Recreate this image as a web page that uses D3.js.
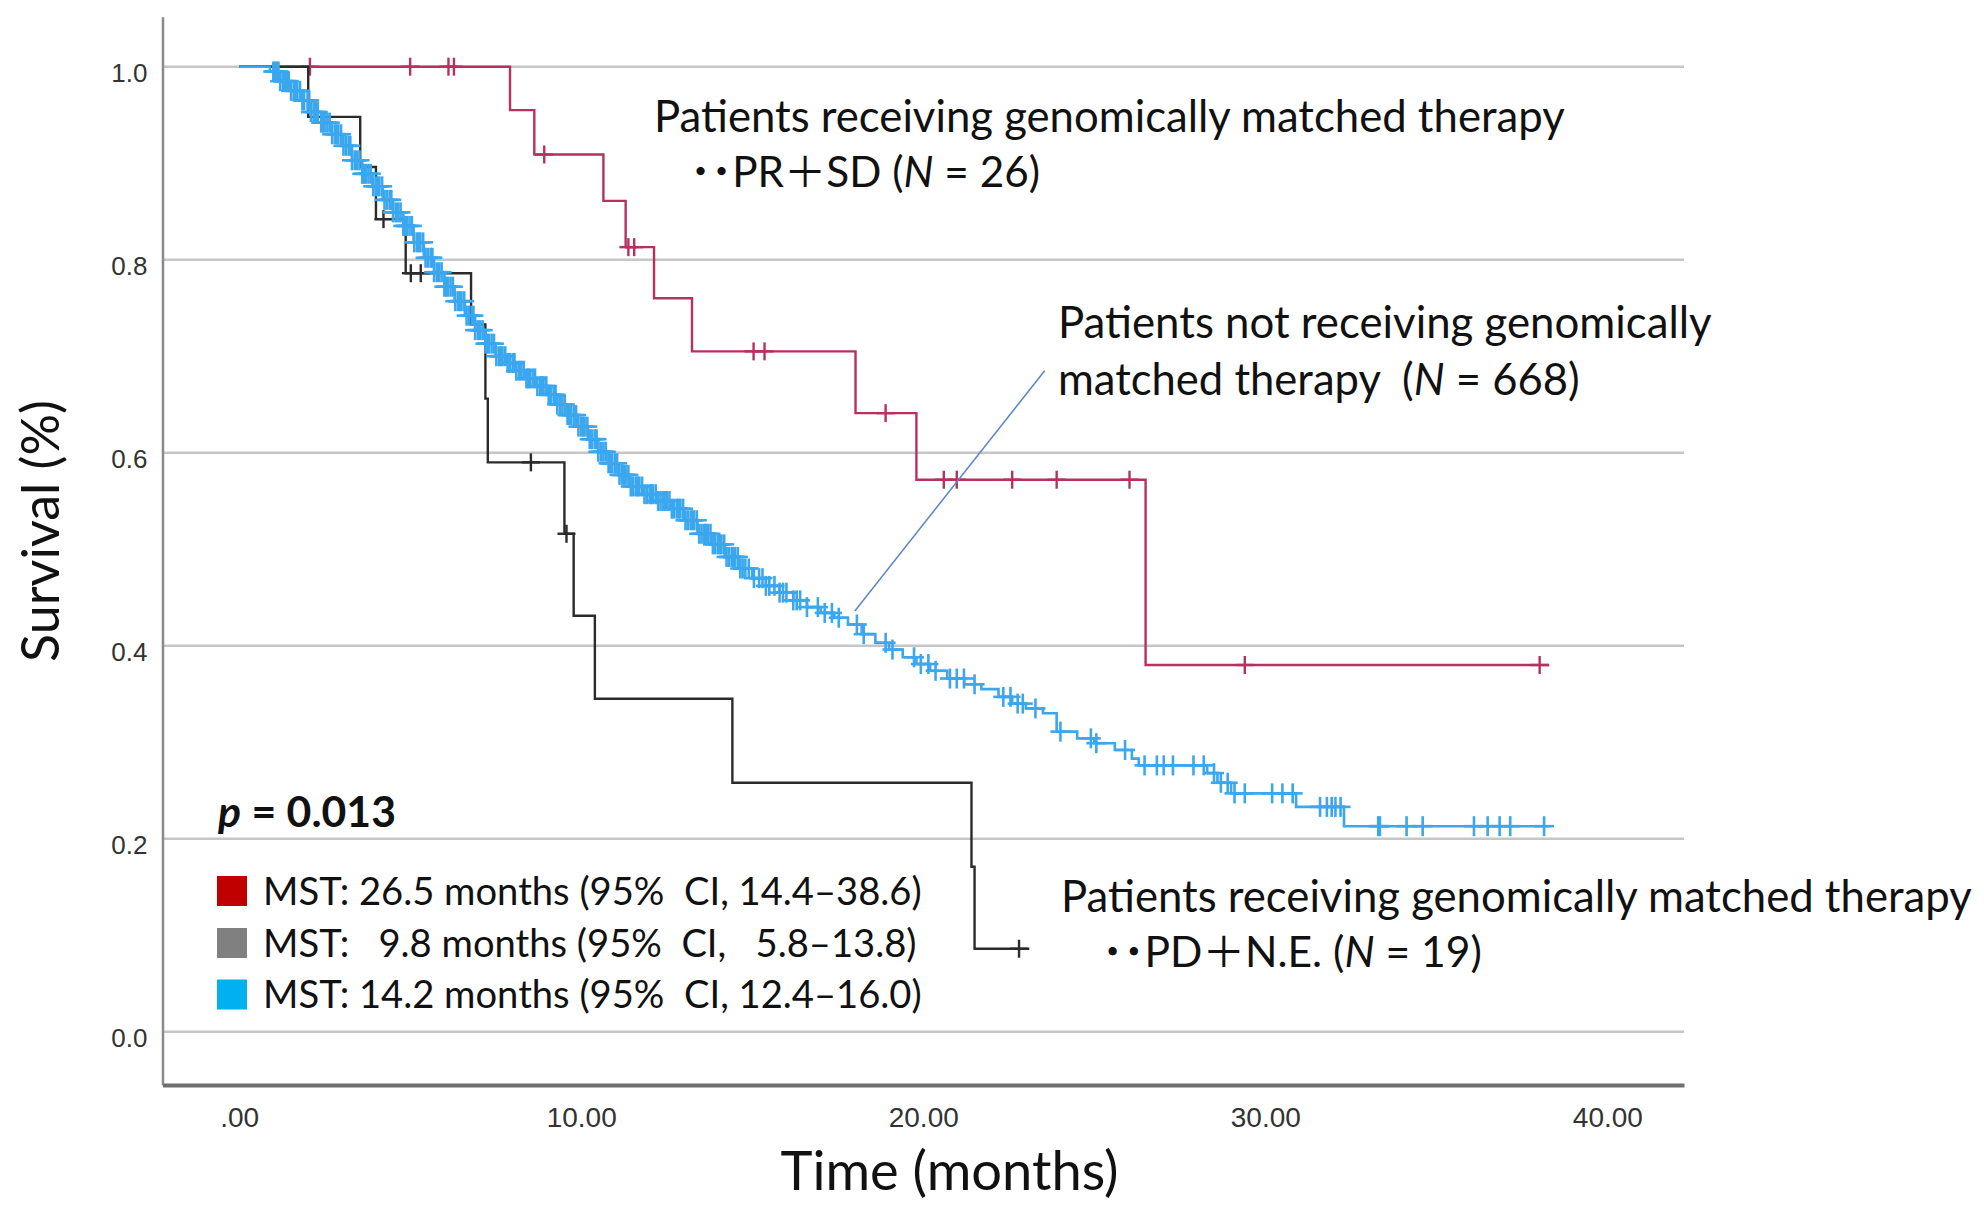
<!DOCTYPE html>
<html>
<head>
<meta charset="utf-8">
<script src="https://cdn.jsdelivr.net/npm/d3@7"></script>
<style>
  body { margin: 0; background: #fff; }
  text { white-space: pre; }
</style>
</head>
<body>
<script>
// ---- data ----
const xTicks = [0, 10, 20, 30, 40];
const xTickLabels = [".00", "10.00", "20.00", "30.00", "40.00"];
const yTicks = [0, 0.2, 0.4, 0.6, 0.8, 1.0];
const yTickLabels = ["0.0", "0.2", "0.4", "0.6", "0.8", "1.0"];

// PR + SD (N = 26)
const redTime = [0, 7.92, 8.63, 10.65, 11.3, 12.13, 13.24, 18.02, 19.8, 26.5];
const redSurv = [1.0, 0.955, 0.909, 0.861, 0.813, 0.760, 0.705, 0.641, 0.572, 0.380];
const redCensor = [2.07, 5.0, 6.12, 6.28, 8.92, 11.38, 11.55, 15.04, 15.36, 18.9, 20.6, 20.98, 22.6, 23.9, 26.03, 29.4, 38.02];
const redEnd = 38.3;

// PD + N.E. (N = 19)
const blackTime = [0, 2.02, 3.54, 4.0, 4.87, 6.78, 7.2, 7.27, 9.51, 9.78, 10.4, 14.42, 21.41, 21.5];
const blackSurv = [1.0, 0.948, 0.896, 0.842, 0.786, 0.733, 0.656, 0.590, 0.516, 0.431, 0.345, 0.258, 0.171, 0.086];
const blackCensor = [4.22, 5.02, 5.31, 8.53, 9.57, 22.8];
const blackEnd = 23.1;

// not matched (N = 668)
const blueTime = [0, 0.9, 1.2, 1.5, 1.8, 2.1, 2.4, 2.7, 3.0, 3.3, 3.6, 3.9, 4.2, 4.5, 4.8, 5.1, 5.4, 5.7, 6.0, 6.3,
  6.6, 6.9, 7.2, 7.5, 7.8, 8.1, 8.4, 8.7, 9.0, 9.3, 9.6, 9.9, 10.2, 10.5, 10.8, 11.1, 11.4, 11.8, 12.2, 12.6,
  13.0, 13.4, 13.8, 14.2, 14.6, 15.0, 15.4, 15.8, 16.2, 16.6, 17.0, 17.4, 17.8, 18.2, 18.6, 19.0, 19.4, 19.8,
  20.2, 20.7, 21.2, 21.7, 22.2, 22.6, 23.0, 23.5, 23.9, 24.5, 25.0, 25.6, 26.1, 26.3, 28.3, 28.6, 29.0, 30.9, 32.3];
const blueSurv = [1.0, 0.995, 0.985, 0.975, 0.965, 0.953, 0.942, 0.930, 0.918, 0.903, 0.889, 0.876, 0.862, 0.849, 0.835, 0.818, 0.802, 0.787, 0.772, 0.757,
  0.742, 0.727, 0.713, 0.700, 0.693, 0.685, 0.677, 0.669, 0.660, 0.650, 0.639, 0.627, 0.614, 0.601, 0.589, 0.577, 0.565, 0.557, 0.550, 0.542,
  0.530, 0.516, 0.505, 0.492, 0.480, 0.470, 0.462, 0.455, 0.447, 0.440, 0.434, 0.429, 0.422, 0.412, 0.403, 0.396, 0.388, 0.381,
  0.374, 0.366, 0.360, 0.355, 0.347, 0.340, 0.335, 0.330, 0.311, 0.304, 0.299, 0.292, 0.283, 0.276, 0.268, 0.258, 0.247, 0.233, 0.213];
const blueCensor = [1.0, 1.05, 1.1, 1.15, 1.2, 1.28, 1.35, 1.4, 1.45, 1.52, 1.6, 1.65, 1.7, 1.78, 1.85, 1.9, 2.0, 2.05, 2.1, 2.18,
  2.25, 2.3, 2.4, 2.45, 2.5, 2.58, 2.65, 2.72, 2.8, 2.85, 2.9, 2.98, 3.05, 3.12, 3.2, 3.25, 3.3, 3.38, 3.45, 3.52,
  3.6, 3.65, 3.7, 3.78, 3.85, 3.92, 4.0, 4.05, 4.1, 4.18, 4.25, 4.32, 4.4, 4.45, 4.5, 4.58, 4.65, 4.72, 4.8, 4.85,
  4.9, 4.98, 5.05, 5.12, 5.2, 5.25, 5.3, 5.38, 5.45, 5.52, 5.6, 5.65, 5.7, 5.78, 5.85, 5.92, 6.0, 6.05, 6.1, 6.18,
  6.25, 6.32, 6.4, 6.45, 6.5, 6.58, 6.65, 6.72, 6.8, 6.85, 6.9, 6.98, 7.05, 7.12, 7.2, 7.25, 7.3, 7.38, 7.45, 7.52,
  7.6, 7.65, 7.7, 7.78, 7.85, 7.92, 8.0, 8.05, 8.1, 8.18, 8.25, 8.32, 8.4, 8.45, 8.5, 8.58, 8.65, 8.72, 8.8, 8.85,
  8.9, 8.98, 9.05, 9.12, 9.2, 9.25, 9.3, 9.38, 9.45, 9.52, 9.6, 9.65, 9.7, 9.78, 9.85, 9.92, 10.0, 10.05, 10.1, 10.18,
  10.25, 10.32, 10.4, 10.45, 10.5, 10.58, 10.65, 10.72, 10.8, 10.85, 10.9, 10.98, 11.05, 11.12, 11.2, 11.25, 11.3, 11.38, 11.45, 11.52,
  11.6, 11.65, 11.7, 11.78, 11.85, 11.92, 12.0, 12.05, 12.1, 12.18, 12.25, 12.32, 12.4, 12.45, 12.5, 12.58, 12.65, 12.72, 12.8, 12.85,
  12.9, 12.98, 13.05, 13.12, 13.2, 13.25, 13.3, 13.38, 13.45, 13.52, 13.6, 13.65, 13.7, 13.78, 13.85, 13.92, 14.0, 14.05, 14.1, 14.18,
  14.25, 14.32, 14.4, 14.45, 14.5, 14.58, 14.65, 14.72, 14.8, 14.9, 15.05, 15.2, 15.3, 15.4, 15.5, 15.65, 15.8, 15.9, 16.0, 16.2,
  16.3, 16.4, 16.6,
  16.92, 17.12, 17.33, 17.53, 18.06, 18.26, 18.9, 19.1, 19.73, 19.93, 20.15, 20.36, 20.78, 20.98, 21.19, 21.5,
  22.34, 22.55, 22.76, 22.91, 23.28, 24.01, 24.9, 25.06, 25.9, 26.47, 26.83, 27.03, 27.3, 27.9, 28.2,
  28.5, 28.7, 28.9, 29.1, 29.4, 30.2, 30.5, 30.8, 31.6, 31.8, 31.94, 32.05, 32.2, 33.3, 33.35, 34.13, 34.6,
  36.1, 36.5, 36.85, 37.16, 38.15];
const blueEnd = 38.3;

// leader line for the N = 668 label, in data units
const leaderTime = [18.0, 23.55];
const leaderSurv = [0.436, 0.685];

const legendLabels = [
  "MST: 26.5 months (95%  CI, 14.4\u201338.6)",
  "MST:   9.8 months (95%  CI,   5.8\u201313.8)",
  "MST: 14.2 months (95%  CI, 12.4\u201316.0)"
];
const legendColors = ["#c00000", "#808080", "#00b0f0"];

// ---- drawing ----
const W = 1984, H = 1216;
const sansFont = "Lato, 'Noto Sans CJK JP', sans-serif";
const tickFont = "'Liberation Sans', Arial, sans-serif";

const svg = d3.select("body").append("svg")
  .attr("width", W)
  .attr("height", H);

svg.append("rect").attr("width", W).attr("height", H).attr("fill", "#fff");

const x = d3.scaleLinear().domain([-2.24, 42.24]).range([162.5, 1684]);
const y = d3.scaleLinear().domain([-0.0552, 1.0518]).range([1085, 16.7]);

// grid
svg.append("g")
  .selectAll("line")
  .data(yTicks)
  .join("line")
    .attr("x1", x.range()[0])
    .attr("x2", x.range()[1])
    .attr("y1", d => y(d))
    .attr("y2", d => y(d))
    .attr("stroke", "#c6c6c6")
    .attr("stroke-width", 2.5);

// axes
const yAxis = svg.append("g")
  .attr("transform", `translate(${x.range()[0]},0)`)
  .call(d3.axisLeft(y).tickValues(yTicks).tickFormat((d, i) => yTickLabels[i]).tickSize(0).tickPadding(15));
yAxis.select(".domain").attr("stroke", "#8a8a8a").attr("stroke-width", 2.5);
yAxis.selectAll("text")
  .attr("font-family", tickFont)
  .attr("font-size", 26)
  .attr("fill", "#333")
  .attr("dy", 15);

const xAxis = svg.append("g")
  .attr("transform", `translate(0,${y.range()[0]})`)
  .call(d3.axisBottom(x).tickValues(xTicks).tickFormat((d, i) => xTickLabels[i]).tickSize(0));
xAxis.select(".domain").attr("stroke", "#6e6e6e").attr("stroke-width", 4);
xAxis.selectAll("text")
  .attr("font-family", tickFont)
  .attr("font-size", 28)
  .attr("fill", "#333")
  .attr("y", 0)
  .attr("dy", 42);

// KM curves
const stepLine = d3.line()
  .x(d => x(d[0]))
  .y(d => y(d[1]))
  .curve(d3.curveStepAfter);

function drawKM(times, surv, end, censor, color, width, arm) {
  const pts = times.map((t, i) => [t, surv[i]]);
  pts.push([end, surv[surv.length - 1]]);
  const g = svg.append("g");
  g.append("path")
    .attr("d", stepLine(pts))
    .attr("fill", "none")
    .attr("stroke", color)
    .attr("stroke-width", width);
  const at = t => surv[d3.bisectRight(times, t) - 1];
  const marks = g.selectAll("g.cens")
    .data(censor)
    .join("g")
      .attr("transform", t => `translate(${x(t)},${y(at(t))})`);
  marks.append("line")
    .attr("x1", 0).attr("x2", 0).attr("y1", -arm).attr("y2", arm)
    .attr("stroke", color).attr("stroke-width", width);
  marks.append("line")
    .attr("x1", -arm).attr("x2", arm).attr("y1", 0).attr("y2", 0)
    .attr("stroke", color).attr("stroke-width", width);
}

drawKM(redTime, redSurv, redEnd, redCensor, "#b8305f", 2.4, 9);
drawKM(blackTime, blackSurv, blackEnd, blackCensor, "#2b2b2b", 2.4, 9);
drawKM(blueTime, blueSurv, blueEnd, blueCensor, "#3aa7ef", 2.6, 10);

svg.append("line")
  .attr("x1", x(leaderTime[0])).attr("y1", y(leaderSurv[0]))
  .attr("x2", x(leaderTime[1])).attr("y2", y(leaderSurv[1]))
  .attr("stroke", "#5a86c5")
  .attr("stroke-width", 1.5);

// text helpers: parts = [[string, italic, bold]]
function label(px, py, parts, targetW, size, anchor) {
  const t = svg.append("text")
    .attr("x", px)
    .attr("y", py)
    .attr("font-family", sansFont)
    .attr("font-size", size)
    .attr("fill", "#111")
    .attr("text-anchor", anchor || "start")
    .attr("xml:space", "preserve");
  parts.forEach(p => {
    t.append("tspan")
      .attr("font-style", p[1] ? "italic" : null)
      .attr("font-weight", p[2] ? "bold" : null)
      .text(p[0]);
  });
  const len = t.node().getComputedTextLength();
  if (targetW && len > 0) t.attr("font-size", size * targetW / len);
  return t;
}

label(654, 131.7, [["Patients receiving genomically matched therapy"]], 911, 40);
label(690, 186.7, [["\uff65\uff65", false, true], ["PR\uff0bSD ("], ["N", true], [" = 26)"]], 350, 40);
label(1058, 338.3, [["Patients not receiving genomically"]], 654, 40);
label(1058, 395, [["matched therapy  ("], ["N", true], [" = 668)"]], 522, 40);
label(1061, 911.7, [["Patients receiving genomically matched therapy"]], 911, 40);
label(1102, 966.7, [["\uff65\uff65", false, true], ["PD\uff0bN.E. ("], ["N", true], [" = 19)"]], 380, 40);

label(218, 826.7, [["p", true, true], [" = 0.013", false, true]], 178, 36);

// legend
const legRowY = [904.5, 956.5, 1008];
const legSize = label(263, legRowY[0], [[legendLabels[0]]], 659, 40).attr("font-size");
legendLabels.slice(1).forEach((s, i) => {
  svg.append("text")
    .attr("x", 263)
    .attr("y", legRowY[i + 1])
    .attr("font-family", sansFont)
    .attr("font-size", legSize)
    .attr("fill", "#111")
    .attr("xml:space", "preserve")
    .text(s);
});
svg.append("g")
  .selectAll("rect")
  .data(legendColors)
  .join("rect")
    .attr("x", 217)
    .attr("y", (d, i) => legRowY[i] - 28.5)
    .attr("width", 30)
    .attr("height", 30)
    .attr("fill", d => d);

// axis titles
label(949.5, 1190, [["Time (months)"]], 338, 50, "middle");
label(0, 0, [["Survival (%)"]], 262, 50, "middle")
  .attr("transform", "translate(59,531) rotate(-90)");
</script>
</body>
</html>
